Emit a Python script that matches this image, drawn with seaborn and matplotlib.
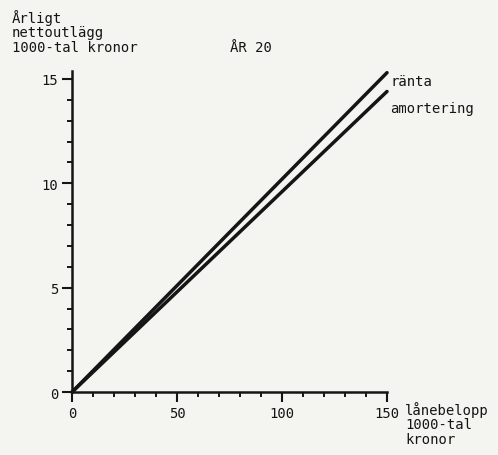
import matplotlib
matplotlib.use("Agg")
import matplotlib.pyplot as plt
from matplotlib.ticker import MultipleLocator
import pandas as pd
import seaborn as sns

# Loan amount (1000 SEK) and yearly net outlay (1000 SEK) in year 20
loan = [0, 150]
ranta = [0, 15.3]
amortering = [0, 14.4]
series_names = ["ränta", "amortering"]
x_ticks = [0, 50, 100, 150]
y_ticks = [0, 5, 10, 15]

df = pd.DataFrame({
    "lånebelopp": loan * 2,
    "nettoutlägg": ranta + amortering,
    "serie": [series_names[0]] * len(loan) + [series_names[1]] * len(loan),
})

sns.set_theme(style="white")
plt.rcParams["font.family"] = ["DejaVu Sans Mono"]
bg = "#f4f4f1"
ink = "#151515"
fs = 10

fig = plt.figure(figsize=(4.98, 4.56), dpi=100, facecolor=bg)
ax = fig.add_axes([0.1446, 0.138, 0.6325, 0.705])
ax.set_facecolor(bg)

sns.lineplot(data=df, x="lånebelopp", y="nettoutlägg", hue="serie",
             palette=[ink, ink], linewidth=2.5, legend=False, ax=ax,
             clip_on=False)

ax.set_xlim(0, 150)
ax.set_ylim(0, 15.4)
ax.set_xticks(x_ticks)
ax.set_yticks(y_ticks)
ax.xaxis.set_minor_locator(MultipleLocator(10))
ax.yaxis.set_minor_locator(MultipleLocator(1))
ax.set_xlabel("")
ax.set_ylabel("")

for side in ["top", "right"]:
    ax.spines[side].set_visible(False)
for side in ["left", "bottom"]:
    ax.spines[side].set_linewidth(1.8)
    ax.spines[side].set_color(ink)

ax.tick_params(which="major", direction="out", length=7, width=1.5,
               color=ink, labelsize=fs, labelcolor=ink, pad=3,
               bottom=True, left=True)
ax.tick_params(which="minor", direction="out", length=3.5, width=1.4,
               color=ink, bottom=True, left=True)

# Series labels next to the line ends
ax.annotate(series_names[0], xy=(150, ranta[-1]), xytext=(4, -8),
            textcoords="offset pixels", ha="left", va="center",
            fontsize=fs, color=ink, annotation_clip=False)
ax.annotate(series_names[1], xy=(150, amortering[-1]), xytext=(3, -17),
            textcoords="offset pixels", ha="left", va="center",
            fontsize=fs, color=ink, annotation_clip=False)

# Axis titles
fig.text(12 / 498, 1 - 18 / 456, "Årligt", ha="left", va="center",
         fontsize=fs, color=ink)
fig.text(12 / 498, 1 - 33 / 456, "nettoutlägg", ha="left", va="center",
         fontsize=fs, color=ink)
fig.text(12 / 498, 1 - 48 / 456, "1000-tal kronor", ha="left", va="center",
         fontsize=fs, color=ink)
fig.text(230 / 498, 1 - 48 / 456, "ÅR 20", ha="left", va="center",
         fontsize=fs, color=ink)
fig.text(405 / 498, 1 - 410 / 456, "lånebelopp", ha="left", va="center",
         fontsize=fs, color=ink)
fig.text(405 / 498, 1 - 425 / 456, "1000-tal", ha="left", va="center",
         fontsize=fs, color=ink)
fig.text(405 / 498, 1 - 440 / 456, "kronor", ha="left", va="center",
         fontsize=fs, color=ink)

fig.savefig("out.png", dpi=100, facecolor=bg)
